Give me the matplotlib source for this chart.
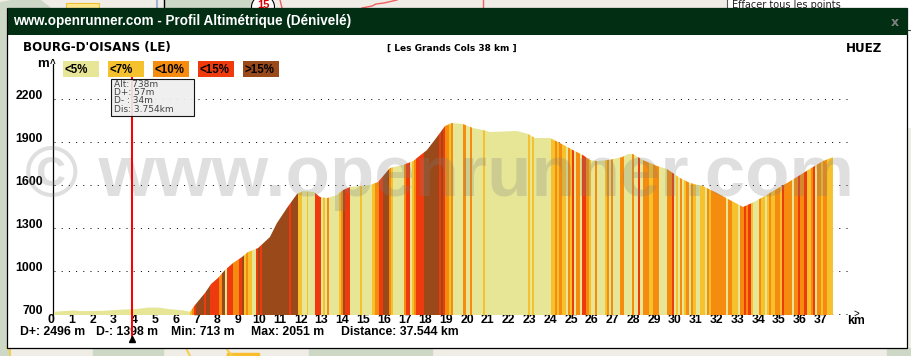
import matplotlib
matplotlib.use("Agg")
import matplotlib.pyplot as plt
import numpy as np
from matplotlib.patches import Rectangle, Polygon, Circle
from matplotlib.transforms import ScaledTranslation

W, H = 912, 356
TOTAL_KM_AXIS = 798 / 20.8

# profile
profile_km = [0, 1.0, 1.2, 2.3, 3.2, 4.0, 4.5, 5.0, 5.5, 6.2, 6.54, 6.78, 7.26, 7.55, 7.88, 8.22, 8.61, 9.04, 9.33, 9.81,
              10.38, 10.72, 11.2, 11.68, 11.97, 12.5, 12.79, 13.13, 13.6, 13.89, 14.23, 15.19, 15.58, 16.15, 16.78,
              17.26, 17.93, 18.41, 18.8, 19.13, 19.66, 20.14, 20.63, 20.96, 22.26, 22.79, 23.13, 23.85, 24.33, 24.95,
              25.43, 25.77, 26.11, 26.59, 26.87, 27.31, 27.6, 27.84, 28.32, 28.99, 29.47, 30.1, 30.58, 31.2, 31.88,
              32.5, 33.13, 33.56, 34.09, 34.57, 35.24, 35.87, 36.49, 36.97, 37.45]
profile_alt = [716, 725, 720, 722, 730, 735, 745, 745, 735, 725, 716, 763, 847, 909, 951, 1007, 1056, 1098, 1133, 1160,
               1237, 1335, 1440, 1537, 1558, 1551, 1516, 1509, 1530, 1565, 1586, 1600, 1621, 1719, 1740,
               1767, 1844, 1935, 2012, 2033, 2026, 1998, 1984, 1970, 1977, 1956, 1928, 1928, 1893, 1844,
               1809, 1774, 1767, 1774, 1781, 1795, 1816, 1816, 1774, 1733, 1712, 1649, 1614, 1593, 1544,
               1495, 1447, 1475, 1516, 1558, 1614, 1670, 1726, 1767, 1795]

# slope bands: end of each band (km) and class (0 <5, 1 <7, 2 <10, 3 <15, 4 >15)
band_end = [6.54, 6.62, 6.73, 6.83, 7.21, 7.31, 7.50, 7.93, 8.08, 8.22, 8.32, 8.61, 8.9, 9.04, 9.13, 9.23, 9.33, 9.52,
            9.71, 9.81, 9.9, 10.0, 11.3, 11.39, 11.73, 11.92, 12.16, 12.21, 12.55, 12.84, 12.93, 13.03, 13.13, 13.22,
            13.7, 13.8, 13.89, 13.99, 14.23, 14.71, 14.81, 15.29, 15.43, 15.63, 15.82, 16.11, 16.2, 16.3, 16.83,
            16.92, 17.12, 17.21, 17.31, 17.4, 17.79, 18.51, 18.61, 18.7, 18.8, 18.99, 19.09, 19.18, 19.66, 19.81,
            20.0, 20.1, 20.63, 20.72, 22.79, 22.88, 22.98, 23.08, 23.9, 24.09, 24.18, 24.28, 24.42, 24.62, 24.71,
            24.81, 24.9, 25.0, 25.1, 25.29, 25.38, 25.58, 25.72, 25.82, 26.01, 26.11, 26.49, 26.59, 26.68, 26.78,
            26.88, 27.21, 27.4, 27.79, 27.88, 28.08, 28.17, 28.32, 28.61, 28.8, 29.09, 29.47, 29.71, 29.81, 29.9,
            30.0, 30.1, 30.19, 30.29, 30.38, 30.53, 30.63, 30.72, 30.87, 31.06, 31.3, 31.39, 31.49, 31.59, 32.31,
            32.4, 32.6, 32.88, 32.98, 33.17, 33.27, 33.37, 33.51, 33.61, 33.89, 33.99, 34.18, 34.28, 34.38, 34.47,
            34.66, 34.9, 35.0, 35.1, 35.48, 35.58, 35.77, 35.87, 36.06, 36.2, 36.39, 36.49, 36.59, 36.68, 36.88,
            36.97, 37.16, 37.45]
band_class = [0, 1, 2, 3, 4, 3, 4, 3, 2, 4, 0, 3, 2, 3, 4, 1, 2, 1,
              0, 3, 4, 3, 4, 3, 4, 1, 0, 1, 0, 3, 0, 1, 0, 2,
              0, 1, 2, 4, 3, 0, 1, 0, 1, 2, 3, 4, 2, 1, 0,
              2, 3, 0, 1, 2, 3, 4, 3, 4, 3, 2, 1, 2, 0, 2,
              0, 2, 0, 1, 0, 1, 0, 1, 0, 1, 2, 1, 2, 1, 0,
              2, 1, 3, 0, 2, 0, 3, 2, 1, 0, 2, 0, 1, 2, 0,
              2, 0, 2, 0, 2, 0, 3, 0, 2, 1, 2, 0, 2, 3, 0,
              1, 0, 2, 0, 1, 2, 0, 2, 1, 0, 1, 0, 2, 1, 2,
              0, 2, 1, 0, 2, 3, 2, 3, 1, 0, 2, 1, 0, 1, 2,
              1, 2, 1, 3, 2, 0, 2, 3, 2, 3, 1, 2, 3, 0, 2,
              1, 2, 1]

class_colors = ["#E6E696", "#F5C22D", "#F58C0F", "#EE3A0C", "#99491A"]
legend_labels = ["<5%", "<7%", "<10%", "<15%", ">15%"]
y_ticks = [700, 1000, 1300, 1600, 1900, 2200]
x_ticks = list(range(0, 38))
cursor_km = 3.754
tooltip_lines = ["Alt: 738m", "D+: 57m", "D- : 34m", "Dis: 3.754km"]
footer_items = [("D+: 2496 m", 20), ("D-: 1398 m", 96), ("Min: 713 m", 171), ("Max: 2051 m", 251), ("Distance: 37.544 km", 341)]

fig = plt.figure(figsize=(W / 100, H / 100), dpi=100)
bg = fig.add_axes([0, 0, 1, 1])
bg.set_xlim(0, W)
bg.set_ylim(H, 0)
bg.axis("off")

# map behind the window
GREEN = "#CDD9C6"
bg.add_patch(Rectangle((0, 0), W, H, color="#F0EDE6", zorder=0))
bg.add_patch(Polygon([(0, 3), (14, 0), (40, 0), (50, 8), (8, 356), (0, 356)], color=GREEN, zorder=1))
bg.add_patch(Rectangle((165, 0), 86, 8, color=GREEN, zorder=1))
bg.add_patch(Rectangle((93, 348), 70, 8, color=GREEN, zorder=1))
bg.add_patch(Rectangle((309, 348), 123, 8, color=GREEN, zorder=1))
bg.add_patch(Rectangle((887, 348), 25, 8, color=GREEN, zorder=1))
bg.add_patch(Rectangle((66, 3), 33, 6, facecolor="#FDE98B", edgecolor="#F0C030", lw=0.8, zorder=1))
bg.add_patch(Rectangle((227, 353), 32, 3, color="#F9BE2E", zorder=1))
bg.plot([7, 10, 10], [348, 348, 356], color="#F4CF4F", lw=1.5, zorder=1)
bg.plot([186, 190], [348, 356], color="#F4CF4F", lw=1.5, zorder=1)
bg.plot([226, 232], [348, 356], color="#F4CF4F", lw=1.5, zorder=1)
bg.plot([164.5, 164.5], [0, 8], color="black", lw=1, zorder=1)
bg.plot([157, 157], [0, 8], color="#9FB4D0", lw=1.5, zorder=1)
bg.plot([280, 282], [0, 8], color="#F06060", lw=1, zorder=1)
bg.plot([362, 372, 376, 384, 397], [8, 6, 4, 3, 0], color="#F06060", lw=1, zorder=1)
bg.plot([483, 483], [0, 8], color="#F06060", lw=1, zorder=1)
bg.add_patch(Circle((263, 7), 11.5, facecolor="white", edgecolor="black", lw=0.8, zorder=1))
bg.text(263, 5, "15", color="#DD0000", fontsize=8, fontweight="bold", family="Liberation Sans", ha="center", va="center", zorder=2)
bg.add_patch(Rectangle((727, 0), 185, 8, facecolor="white", edgecolor="none", zorder=1))
bg.plot([727, 727], [0, 8], color="#555555", lw=0.8, zorder=1)
bg.add_patch(Rectangle((908, 8), 4, 120, facecolor="white", edgecolor="none", zorder=1))
bg.plot([908, 912], [29.5, 29.5], color="#444444", lw=0.8, zorder=1)
bg.text(732, 5, "Effacer tous les points", fontsize=7, color="#222222", va="center", ha="left", zorder=2)

# window
bg.add_patch(Rectangle((7.5, 7.5), 900, 340.5, facecolor="#FFFFFF", edgecolor="#000000", lw=0.9, zorder=3))
bg.add_patch(Rectangle((8, 8), 900, 27, facecolor="#022E14", edgecolor="none", zorder=3))
bg.text(13, 21, "www.openrunner.com - Profil Altimétrique (Dénivelé)", color="white", fontsize=9.75,
        family="Liberation Sans", fontweight="bold", va="center", ha="left", zorder=4)
bg.text(895, 23, "x", color="#808080", fontsize=9, fontweight="bold", va="center", ha="center", zorder=4)
bg.text(23, 48, "BOURG-D'OISANS (LE)", family="DejaVu Sans", fontweight="bold", fontsize=8.55, color="black",
        va="center", ha="left", zorder=4)
bg.text(451.5, 48, "[ Les Grands Cols 38 km ]", family="DejaVu Sans", fontweight="bold", fontsize=6.45, color="black",
        va="center", ha="center", zorder=4)
bg.text(864, 48, "HUEZ", family="DejaVu Sans", fontweight="bold", fontsize=8.55, color="black",
        va="center", ha="center", zorder=4)

# legend
for i, (lab, col) in enumerate(zip(legend_labels, class_colors)):
    x0 = 63 + 45 * i
    bg.add_patch(Rectangle((x0, 61), 36, 16, facecolor=col, edgecolor="none", zorder=4))
    bg.text(x0 + 2, 70, lab, family="Liberation Sans", fontsize=8.3, fontweight="bold", color="black",
            va="center", ha="left", zorder=5)

# data axes
ax = fig.add_axes([54 / W, 1 - 315 / H, 798 / W, 257 / H], zorder=2)
ax.patch.set_alpha(0)
ax.set_xlim(0, TOTAL_KM_AXIS)
ax.set_ylim(700 - 1 / 0.1433, 700 + (314 - 58) / 0.1433)
for s in ["top", "right", "bottom"]:
    ax.spines[s].set_visible(False)
ax.spines["left"].set_position(("outward", 0.7))
ax.spines["left"].set_linewidth(0.9)
ax.spines["left"].set_bounds(ax.get_ylim()[0], 700 + (314 - 64) / 0.1433)
ax.set_yticks(y_ticks)
ax.set_xticks(x_ticks)
ax.tick_params(length=0, pad=0)
ax.set_axisbelow(True)
ax.yaxis.grid(True, color="black", lw=0.72, linestyle=(0, (1, 6.2)))
xoff = ScaledTranslation(-3 / 100, 1 / 100, fig.dpi_scale_trans)
yoff = ScaledTranslation(-10 / 100, 4.5 / 100, fig.dpi_scale_trans)
for t in ax.get_xticklabels():
    t.set(family="Liberation Sans", fontweight="bold", fontsize=8.8)
    t.set_transform(t.get_transform() + xoff)
for t in ax.get_yticklabels():
    t.set(family="Liberation Sans", fontweight="bold", fontsize=8.8)
    t.set_transform(t.get_transform() + yoff)

km = np.array(profile_km)
alt = np.array(profile_alt)
ymin = ax.get_ylim()[0]
poly_xy = np.column_stack([np.r_[km[0], km, km[-1]], np.r_[ymin, alt, ymin]])
clip = Polygon(poly_xy, closed=True, transform=ax.transData, facecolor="none", edgecolor="none")
ax.add_patch(clip)
lefts = np.r_[0, band_end[:-1]]
widths = np.array(band_end) - lefts
colors = [class_colors[c] for c in band_class]
bars = ax.bar(lefts, 2300 - ymin, width=widths, bottom=ymin, align="edge", color=colors, linewidth=0, zorder=3)
for b in bars:
    b.set_clip_path(clip)
    b.set_antialiased(False)

# watermark
bg2 = fig.add_axes([0, 0, 1, 1], zorder=3)
bg2.set_xlim(0, W)
bg2.set_ylim(H, 0)
bg2.axis("off")
bg2.patch.set_alpha(0)
bg2.text(440, 177, "© www.openrunner.com", family="Liberation Sans", fontweight="bold", fontsize=52.3,
         color="#808080", alpha=0.25, ha="center", va="center", zorder=1)

# axis annotations
bg2.text(43, 64, "m", family="Liberation Sans", fontweight="bold", fontsize=9.5, color="black", ha="center", va="center")
bg2.text(53, 64, "^", family="Liberation Sans", fontweight="bold", fontsize=7, color="black", ha="center", va="center")
bg2.text(856, 314, ">", family="Liberation Sans", fontsize=7, color="black", ha="center", va="center")
bg2.text(856.5, 321, "km", family="Liberation Sans", fontweight="bold", fontsize=8.8, color="black", ha="center", va="center")
for (txt, x) in footer_items:
    bg2.text(x, 332, txt, family="Liberation Sans", fontweight="bold", fontsize=8.8, color="black", ha="left", va="center")

# cursor
ax2 = fig.add_axes(ax.get_position(), sharex=ax, sharey=ax, zorder=4)
ax2.patch.set_alpha(0)
ax2.axis("off")
ax2.axvline(cursor_km, ymin=(315 - 338) / 257, ymax=(315 - 78) / 257, color="#FF0000", lw=1.44, clip_on=False, zorder=5)
ax2.plot([cursor_km], [0], marker="^", ms=5, color="black", clip_on=False, zorder=6,
         transform=ax2.get_xaxis_transform() + ScaledTranslation(0, -24 / 100, fig.dpi_scale_trans))

# tooltip
tip = fig.add_axes([0, 0, 1, 1], zorder=5)
tip.set_xlim(0, W)
tip.set_ylim(H, 0)
tip.axis("off")
tip.patch.set_alpha(0)
tip.add_patch(Rectangle((111.5, 78.5), 83, 37, facecolor="#EEEEEE", edgecolor="#000000", lw=0.8, alpha=0.92))
for i, line in enumerate(tooltip_lines):
    tip.text(114, 84.5 + 8.2 * i, line, family="DejaVu Sans", fontsize=6.5, color="#444444", ha="left", va="center")

fig.savefig("out.png", dpi=100)
